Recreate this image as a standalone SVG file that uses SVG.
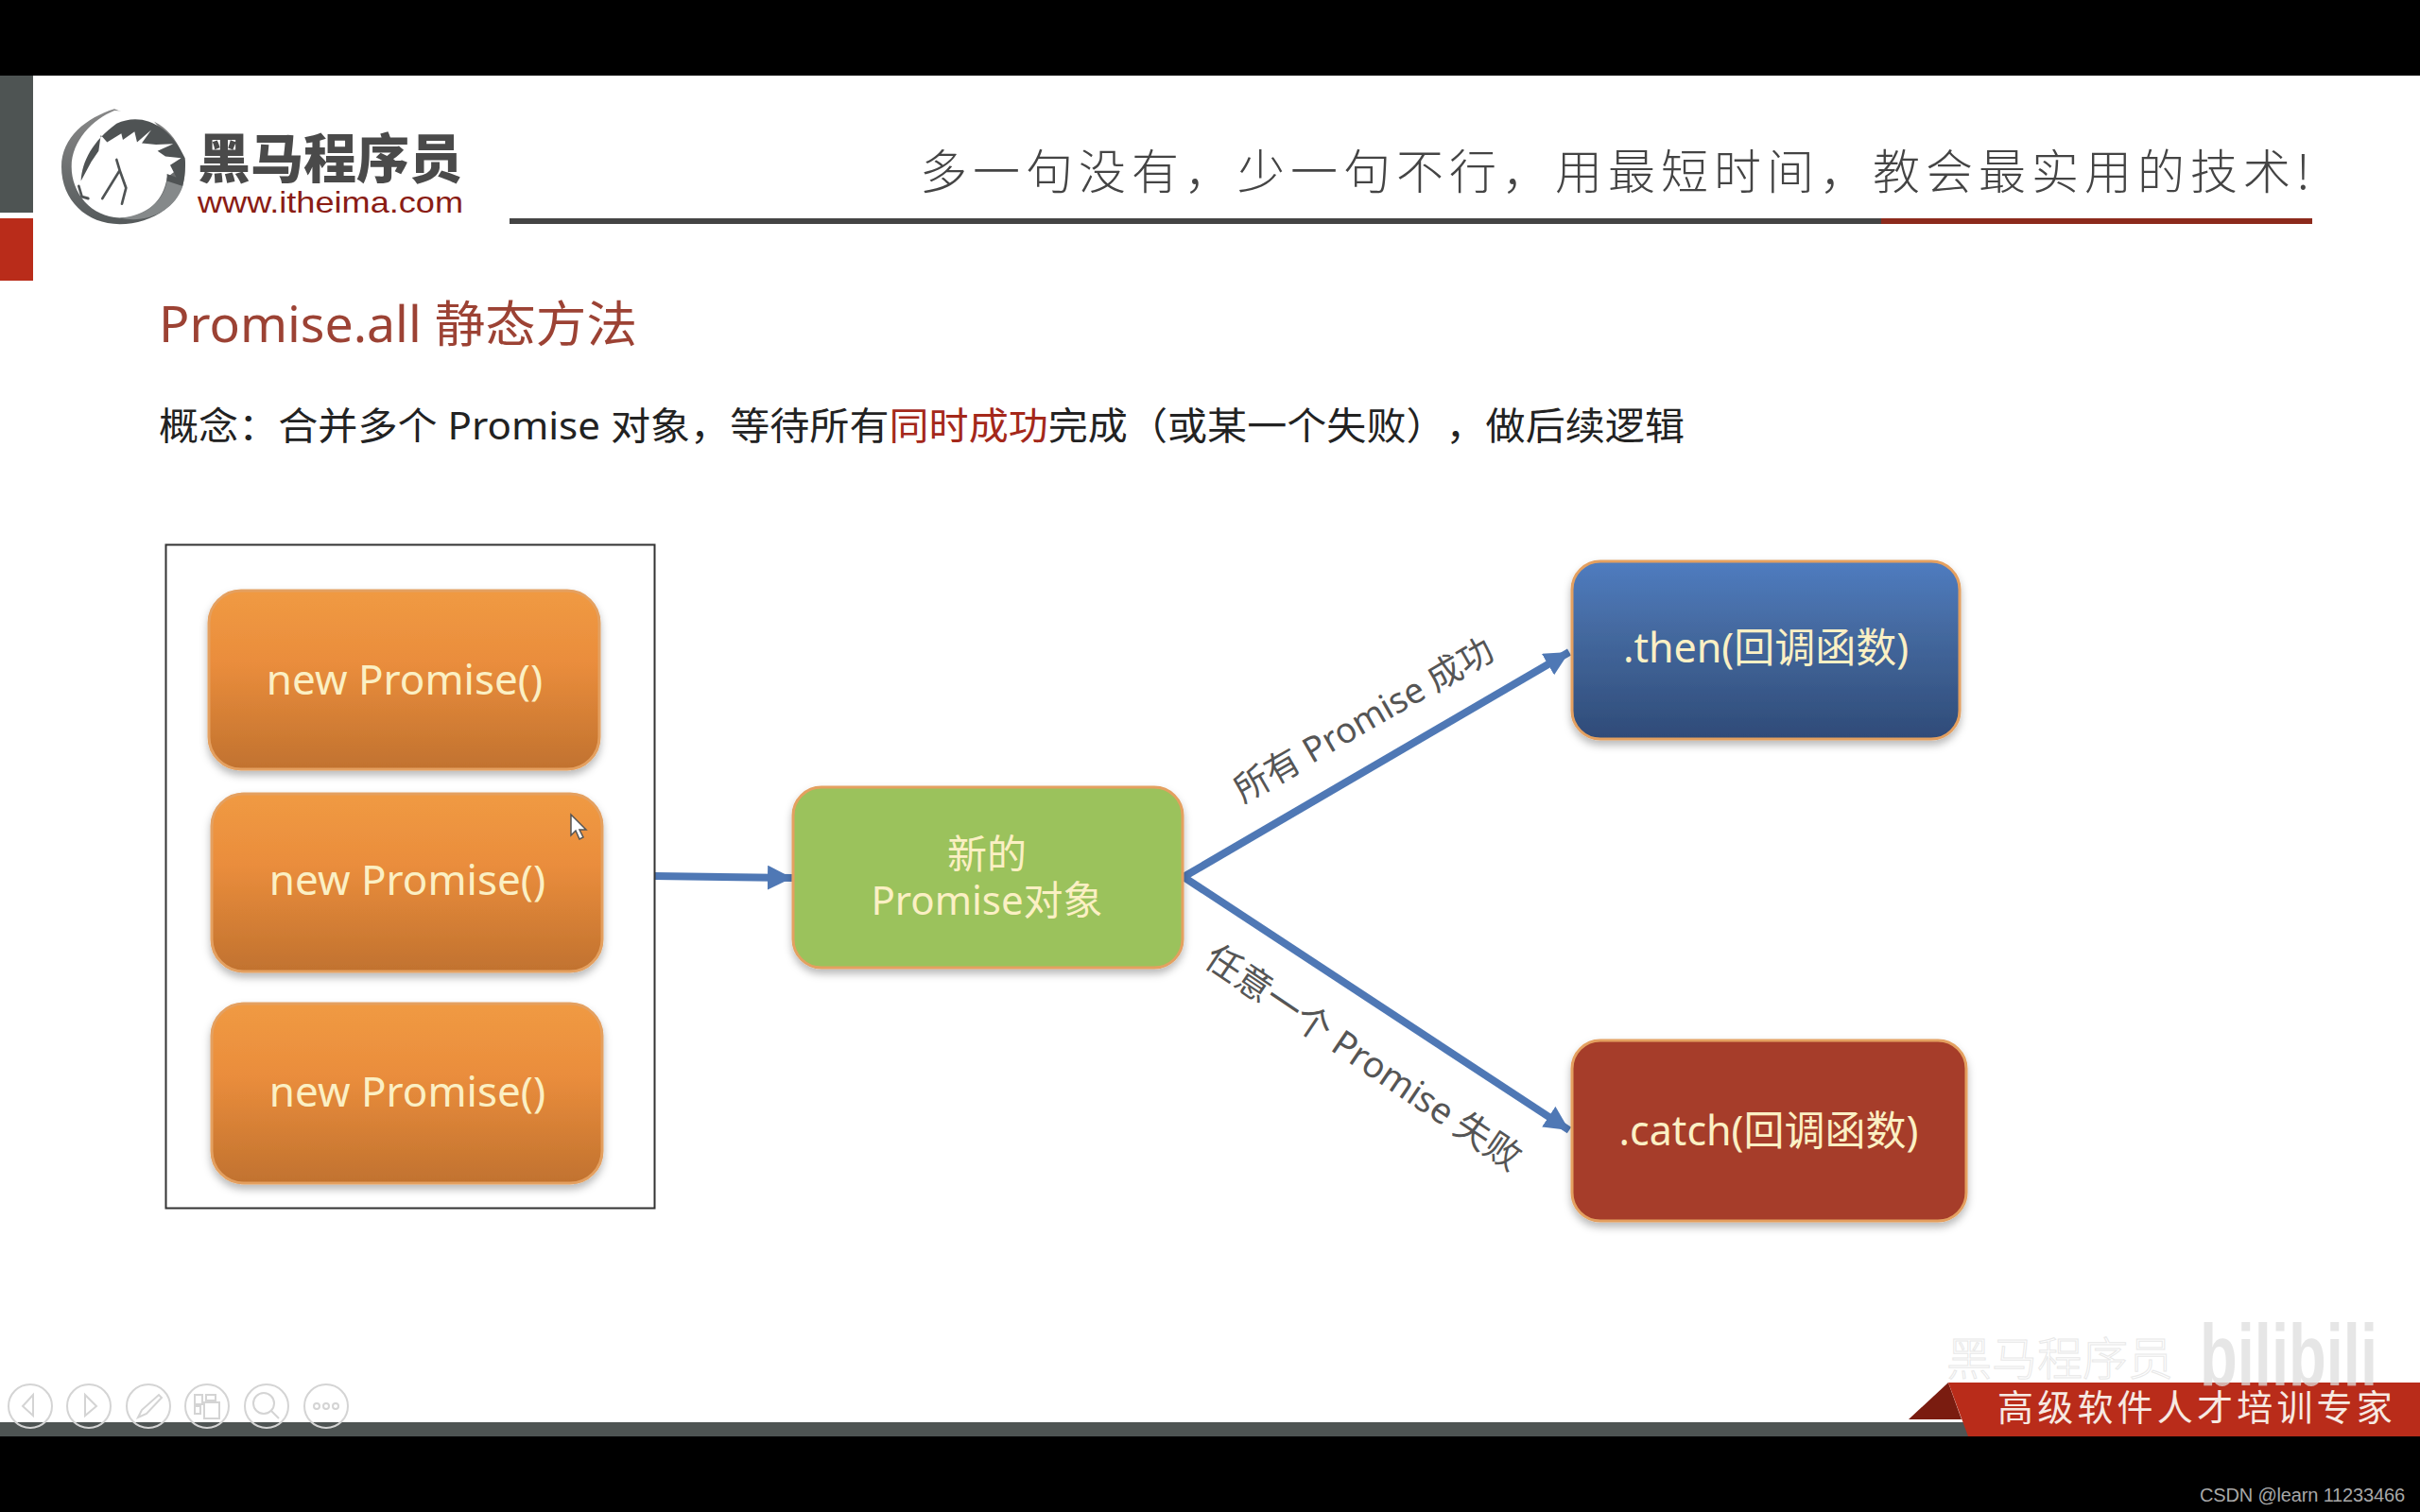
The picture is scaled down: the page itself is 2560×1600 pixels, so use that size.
<svg xmlns="http://www.w3.org/2000/svg" width="2560" height="1600" viewBox="0 0 2560 1600">
<defs>
<linearGradient id="og" x1="0" y1="0" x2="0" y2="1"><stop offset="0" stop-color="#f09a43"/><stop offset="0.4" stop-color="#ea8d3c"/><stop offset="1" stop-color="#c1722f"/></linearGradient>
<linearGradient id="bg" x1="0" y1="0" x2="0" y2="1"><stop offset="0" stop-color="#4f7cc0"/><stop offset="0.4" stop-color="#44699f"/><stop offset="1" stop-color="#2f4b78"/></linearGradient>
<linearGradient id="rg" x1="0" y1="0" x2="0" y2="1"><stop offset="0" stop-color="#888"/><stop offset="1" stop-color="#555a5b"/></linearGradient>
<filter id="sh" x="-5%" y="-5%" width="110%" height="115%"><feDropShadow dx="0" dy="5" stdDeviation="4" flood-color="#000" flood-opacity="0.28"/></filter>
<marker id="ah" markerUnits="userSpaceOnUse" markerWidth="30" markerHeight="28" refX="26" refY="13" orient="auto"><path d="M0,0L26,13L0,26Z" fill="#4f78b5"/></marker>
<style>
text{font-family:"Noto Sans","Noto Sans CJK SC",sans-serif;text-spacing-trim:space-all}
.cjk{font-family:"Noto Sans CJK SC",sans-serif}
.box{filter:url(#sh);stroke:#e4a060;stroke-width:3}
.btn{font-size:44px;fill:#fbf0c4;text-anchor:middle}
.btn2{font-size:43px;fill:#fbf0c4;text-anchor:middle}
.btn3{font-size:42px;fill:#fbf0c4;text-anchor:middle}
.lab{font-size:37px;fill:#555;text-anchor:middle}
.lab2{font-size:38px;fill:#555;text-anchor:middle}
.conn{stroke:#4f78b5;stroke-width:8;fill:none;marker-end:url(#ah)}
.ic{fill:none;stroke:#d4d4d4;stroke-width:2}
.wb{fill:none;stroke:#4f5354;stroke-width:8;stroke-linecap:round;stroke-linejoin:round}
</style>
</defs>
<rect width="2560" height="1600" fill="#fff"/>
<g id="chrome">
<rect width="2560" height="80" fill="#000"/>
<rect y="1505" width="2560" height="15" fill="#4e5453"/>
<rect y="1520" width="2560" height="80" fill="#000"/>
<rect y="80" width="35" height="145" fill="#4e5453"/>
<rect y="231" width="35" height="66" fill="#b92c1a"/>
<rect x="539" y="231" width="1451" height="6" fill="#444"/>
<rect x="1990" y="231" width="456" height="6" fill="#8c2a1c"/>
<text class="cjk" x="973" y="200" font-size="50" letter-spacing="6" fill="#444" font-weight="300">多一句没有，少一句不行，用最短时间，教会最实用的技术!</text>
</g>
<g id="logo">
<g transform="translate(55,104) scale(0.3333,0.372)">
<path d="M198,30C110,55 30,110 30,195C30,290 110,358 215,358C320,358 422,300 422,205C422,130 350,55 270,55Z" fill="url(#rg)"/>
<path d="M198,35C130,60 62,120 62,195C62,270 125,338 215,340C300,340 355,290 365,225L430,180L300,40Z" fill="#fff"/>
<path d="M92,235C95,180 130,120 205,72C280,40 370,70 422,170C425,190 422,220 415,250L365,240L365,215L395,225L375,190L410,170L360,165L335,150L385,130L330,132L285,128L315,90L270,125L262,95L225,118L220,100L175,125L155,105L148,150L125,180Z" fill="#4f5354"/>
<path d="M365,235C355,290 300,335 215,340C300,358 390,320 415,250Z" fill="#85898a"/>
<path class="wb" d="M205,175L215,205L160,285M215,205L235,255L222,300M85,250L95,280L115,285"/>
</g>
<text class="cjk" x="209" y="188" font-size="56" font-weight="900" fill="#4a4a4a">黑马程序员</text>
<text x="209" y="225" font-size="32" textLength="281" lengthAdjust="spacingAndGlyphs" style="font-family:'Liberation Sans',sans-serif" fill="#8a1c14">www.itheima.com</text>
</g>
<g id="heading">
<text x="168" y="362" font-size="52" fill="#9c4234" textLength="506" lengthAdjust="spacingAndGlyphs">Promise.all 静态方法</text>
<text x="168" y="465" font-size="40" fill="#222" textLength="1614" lengthAdjust="spacingAndGlyphs">概念：合并多个 Promise 对象，等待所有<tspan fill="#a4281a">同时成功</tspan>完成（或某一个失败），做后续逻辑</text>
</g>
<g id="connectors">
<path class="conn" d="M692,927L838,929"/>
<path class="conn" d="M1252,928L1660,690"/>
<path class="conn" d="M1252,928L1660,1196"/>
</g>
<g id="container"><rect x="175.500" y="576.500" width="517" height="702" fill="none" stroke="#333" stroke-width="2"/></g>
<g id="promise1"><rect class="box" x="221" y="625" width="413" height="189" rx="34" fill="url(#og)"/><text class="btn" x="428" y="735">new Promise()</text></g>
<g id="promise2"><rect class="box" x="224" y="840" width="413" height="188" rx="34" fill="url(#og)"/><text class="btn" x="431" y="947">new Promise()</text></g>
<g id="promise3"><rect class="box" x="224" y="1062" width="413" height="190" rx="34" fill="url(#og)"/><text class="btn" x="431" y="1171">new Promise()</text></g>
<g id="newPromise"><rect class="box" x="839" y="833" width="412" height="191" rx="30" fill="#9bc25b"/><text class="btn3" x="1044" y="919">新的</text><text class="btn3" x="1044" y="968">Promise对象</text></g>
<g id="then"><rect class="box" x="1663" y="594" width="410" height="188" rx="30" fill="url(#bg)"/><text class="btn2" x="1868" y="701">.then(回调函数)</text></g>
<g id="catch"><rect class="box" x="1663" y="1101" width="417" height="191" rx="30" fill="#a63e2a"/><text class="btn2" x="1871" y="1212">.catch(回调函数)</text></g>
<g id="labels">
<text class="lab" transform="translate(1449,773) rotate(-30)">所有 Promise 成功</text>
<text class="lab2" transform="translate(1435,1130) rotate(34)">任意一个 Promise 失败</text>
</g>
<path id="cursor" d="M604,862V884L609,879L613,888L617,886L613,878L620,878Z" fill="#fff" stroke="#555" stroke-width="1.500"/>
<g id="toolbar">
<circle class="ic" cx="32" cy="1488" r="23"/><path class="ic" d="M35,1476L24,1488L35,1498Z"/>
<circle class="ic" cx="94" cy="1488" r="23"/><path class="ic" d="M90,1476L102,1488L90,1498Z"/>
<circle class="ic" cx="157" cy="1488" r="23"/><path class="ic" d="M146,1500L150,1492L168,1476L171,1479L155,1496Z"/>
<circle class="ic" cx="219" cy="1488" r="23"/><path class="ic" d="M206,1476H214V1486H206ZM218,1476H228V1482H218ZM206,1488H212V1496H206ZM216,1484H232V1501H216Z"/>
<circle class="ic" cx="282" cy="1488" r="23"/><circle class="ic" cx="279" cy="1485" r="11"/><path class="ic" d="M287,1493L295,1501"/>
<circle class="ic" cx="345" cy="1488" r="23"/><circle class="ic" cx="335" cy="1488" r="3"/><circle class="ic" cx="345" cy="1488" r="3"/><circle class="ic" cx="355" cy="1488" r="3"/>
</g>
<g id="banner">
<path d="M2061,1463L2019,1502H2075Z" fill="#7a1c10"/>
<path d="M2061,1463H2560V1520H2082Z" fill="#b92c1a"/>
<text class="cjk" x="2113" y="1503" font-size="38" letter-spacing="4.200" fill="#f6e9e2">高级软件人才培训专家</text>
<text class="cjk" x="2059" y="1455" font-size="48" font-weight="300" fill="#fff" stroke="#e8e8e8" stroke-width="1">黑马程序员</text>
<text x="2327" y="1466" font-size="92" font-weight="700" fill="#ddd" fill-opacity="0.75" textLength="188" lengthAdjust="spacingAndGlyphs" style="font-family:'Liberation Sans',sans-serif">bilibili</text>
<text x="2327" y="1589" font-size="20" fill="#a8a8a8" textLength="217" style="font-family:'Liberation Sans',sans-serif">CSDN @learn 11233466</text>
</g>
</svg>
